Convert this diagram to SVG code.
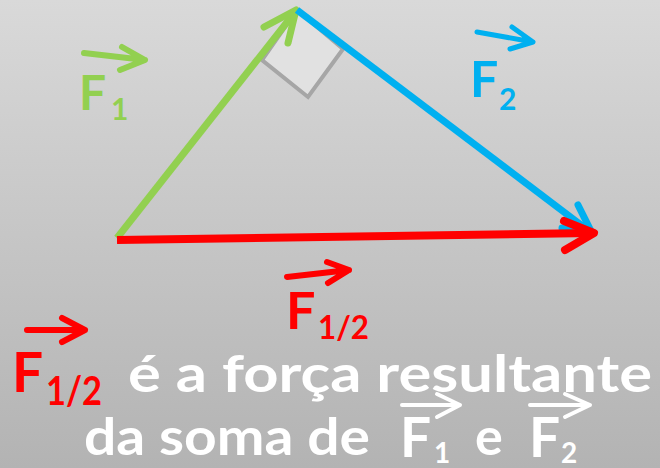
<svg xmlns="http://www.w3.org/2000/svg" width="660" height="468" viewBox="0 0 660 468">
  <defs>
    <linearGradient id="bg" x1="0" y1="0" x2="0" y2="1">
      <stop offset="0" stop-color="#d9d9d9"/>
      <stop offset="1" stop-color="#b3b3b3"/>
    </linearGradient>
    <style>
      .t { font-family: "Lato", "Open Sans", "Liberation Sans", sans-serif; font-weight: bold; }
      .sym { fill: none; stroke-linecap: round; stroke-linejoin: round; }
      .g { stroke: #92d050; }
      .b { stroke: #00b0f0; }
      .r { stroke: #ff0000; }
      .w { stroke: #ffffff; }
    </style>
  </defs>
  <rect width="660" height="468" fill="url(#bg)"/>

  <g id="right-angle">
    <polygon points="297,10 262,60 308,97 343,49" fill="#e1e1e1" stroke="#a6a6a6" stroke-width="4" stroke-linejoin="miter"/>
  </g>

  <g id="connectors">
    <g id="vector-F1">
      <line x1="117" y1="238" x2="295" y2="12" stroke="#92d050" stroke-width="7"/>
      <path class="sym g" d="M264 27 L296 10 L288 43" stroke-width="7"/>
    </g>
    <g id="vector-F2">
      <line x1="297" y1="10" x2="589" y2="231" stroke="#00b0f0" stroke-width="7"/>
      <path class="sym b" d="M578 205 L591 231 L562 228" stroke-width="7"/>
    </g>
    <g id="vector-F12">
      <line x1="117" y1="240" x2="592" y2="233" stroke="#ff0000" stroke-width="8"/>
      <path class="sym r" d="M564 221 L594 233 L565 250" stroke-width="8"/>
    </g>
  </g>

  <g id="label-F1">
    <path class="sym g" d="M84 53 L145 60 M122 47 L145 60 L120 70" stroke-width="6"/>
    <text class="t" x="79" y="110" font-size="48" fill="#92d050">F</text>
    <text class="t" x="111" y="120" font-size="30" fill="#92d050">1</text>
  </g>

  <g id="label-F2">
    <path class="sym b" d="M477 32 L533 42 M512 27 L533 42 L510 49" stroke-width="5"/>
    <text class="t" x="470" y="97" font-size="50" fill="#00b0f0">F</text>
    <text class="t" x="499" y="110" font-size="30" fill="#00b0f0">2</text>
  </g>

  <g id="label-F12">
    <path class="sym r" d="M287 277 L349 270 M327 262 L349 270 L328 283" stroke-width="6"/>
    <text class="t" x="286" y="329" font-size="52" fill="#ff0000">F</text>
    <text class="t" x="318" y="339" font-size="33" fill="#ff0000" textLength="51" lengthAdjust="spacingAndGlyphs">1/2</text>
  </g>

  <g id="caption">
    <path class="sym r" d="M27 330 L85 330 M62 318 L85 330 L62 342" stroke-width="6"/>
    <text class="t" x="12" y="392" font-size="55" fill="#ff0000">F</text>
    <text class="t" x="46" y="405" font-size="40" fill="#ff0000" textLength="56" lengthAdjust="spacingAndGlyphs">1/2</text>
    <text class="t" x="128" y="392" font-size="52" fill="#ffffff" textLength="524" lengthAdjust="spacingAndGlyphs">é a força resultante</text>
    <text class="t" x="84" y="455" font-size="52" fill="#ffffff" textLength="286" lengthAdjust="spacingAndGlyphs">da soma de</text>
    <path class="sym w" d="M402 405 L460 405 M437 394 L460 405 L437 417" stroke-width="4"/>
    <text class="t" x="400" y="457" font-size="55" fill="#ffffff">F</text>
    <text class="t" x="434" y="463" font-size="28" fill="#ffffff">1</text>
    <text class="t" x="475" y="455" font-size="52" fill="#ffffff">e</text>
    <path class="sym w" d="M530 405 L590 405 M565 394 L590 405 L565 417" stroke-width="4"/>
    <text class="t" x="529" y="457" font-size="55" fill="#ffffff">F</text>
    <text class="t" x="561" y="463" font-size="28" fill="#ffffff">2</text>
  </g>
</svg>
